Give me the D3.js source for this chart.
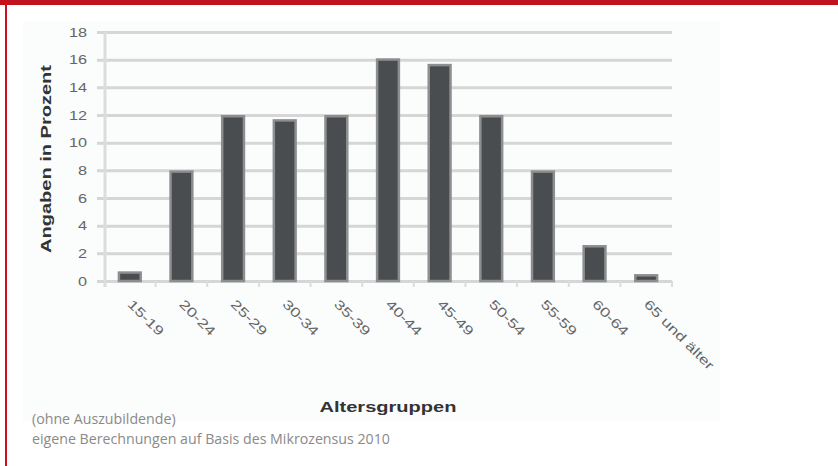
<!DOCTYPE html>
<html><head><meta charset="utf-8">
<script src="https://cdn.jsdelivr.net/npm/d3@7"></script>
<style>body{margin:0;background:#fff;}svg{display:block;}</style>
</head><body>
<svg id="chart" width="838" height="466"></svg>
<script>
const categories = ["15-19","20-24","25-29","30-34","35-39","40-44","45-49","50-54","55-59","60-64","65 und älter"];
const values = [0.7, 8.0, 12.0, 11.7, 12.0, 16.1, 15.7, 12.0, 8.0, 2.6, 0.5];
const yTicks = [0,2,4,6,8,10,12,14,16,18];
const yTitle = "Angaben in Prozent";
const xTitle = "Altersgruppen";
const notes = ["(ohne Auszubildende)", "eigene Berechnungen auf Basis des Mikrozensus 2010"];

const svg = d3.select("#chart");
// frame
svg.append("rect").attr("x",0).attr("y",0).attr("width",838).attr("height",5).attr("fill","#c1111c");
svg.append("rect").attr("x",5).attr("y",0).attr("width",2).attr("height",466).attr("fill","#c8101e");
// panel
svg.append("rect").attr("x",23).attr("y",22).attr("width",697).attr("height",400).attr("fill","#fbfcfc");

const x = d3.scaleBand().domain(categories).range([104,672]).paddingInner(0.53).paddingOuter(0.265);
const y = d3.scaleLinear().domain([0,18]).range([281,32]);

// gridlines + y axis labels
const yAxis = d3.axisLeft(y).tickValues(yTicks).tickSize(-(672-97)).tickPadding(10).tickFormat(d3.format("d"));
const gy = svg.append("g").attr("transform","translate(97,0)").call(yAxis);
gy.select(".domain").remove();
gy.selectAll(".tick line").attr("stroke","#d6d6d6").attr("stroke-width",3);
gy.selectAll(".tick text").attr("font-family","Liberation Sans, Arial, sans-serif").attr("font-size",13).attr("fill","#666")
  .each(function(){ const l=this.getComputedTextLength(); d3.select(this).attr("textLength",l*1.25).attr("lengthAdjust","spacingAndGlyphs"); });
// vertical axis line
svg.append("line").attr("x1",105).attr("x2",105).attr("y1",y(18)).attr("y2",y(0)+6).attr("stroke","#dcdcdc").attr("stroke-width",3);

// x axis boundary ticks
const bounds = categories.map((c,i)=> x(c) + x.bandwidth()/2 + x.step()/2);
svg.append("g").selectAll("line").data(bounds).join("line")
  .attr("x1",d=>d).attr("x2",d=>d).attr("y1",y(0)).attr("y2",y(0)+6).attr("stroke","#dcdcdc").attr("stroke-width",2);

// bars
svg.append("g").selectAll("rect").data(values).join("rect")
  .attr("x",(d,i)=>x(categories[i])+1.25)
  .attr("y",d=>y(d)+1.25)
  .attr("width",x.bandwidth()-2.5)
  .attr("height",d=>y(0)-y(d)-1.25)
  .attr("fill","#4a4d4f").attr("stroke","#8c8e8f").attr("stroke-width",2.5);

// x tick labels rotated
svg.append("g").selectAll("text").data(categories).join("text")
  .attr("transform",d=>`translate(${x(d)+x.bandwidth()/2-3},305) rotate(45)`)
  .attr("font-family","Liberation Sans, Arial, sans-serif").attr("font-size",13).attr("fill","#666")
  .text(d=>d)
  .each(function(){ const l=this.getComputedTextLength(); d3.select(this).attr("textLength",l*1.35).attr("lengthAdjust","spacingAndGlyphs"); });

// axis titles
svg.append("text").attr("transform","translate(51,159) rotate(-90)").attr("text-anchor","middle")
  .attr("font-family","Liberation Sans, Arial, sans-serif").attr("font-size",15).attr("font-weight","bold").attr("fill","#333")
  .attr("textLength",188).attr("lengthAdjust","spacingAndGlyphs").text(yTitle);
svg.append("text").attr("x",388).attr("y",412).attr("text-anchor","middle")
  .attr("font-family","Liberation Sans, Arial, sans-serif").attr("font-size",15).attr("font-weight","bold").attr("fill","#333")
  .attr("textLength",137).attr("lengthAdjust","spacingAndGlyphs").text(xTitle);

// notes
svg.append("g").selectAll("text").data(notes).join("text")
  .attr("x",32).attr("y",(d,i)=>424+i*20)
  .attr("font-family","Open Sans, sans-serif").attr("font-size",14.2).attr("fill","#8a8a8a")
  .text(d=>d);
</script>
</body></html>
